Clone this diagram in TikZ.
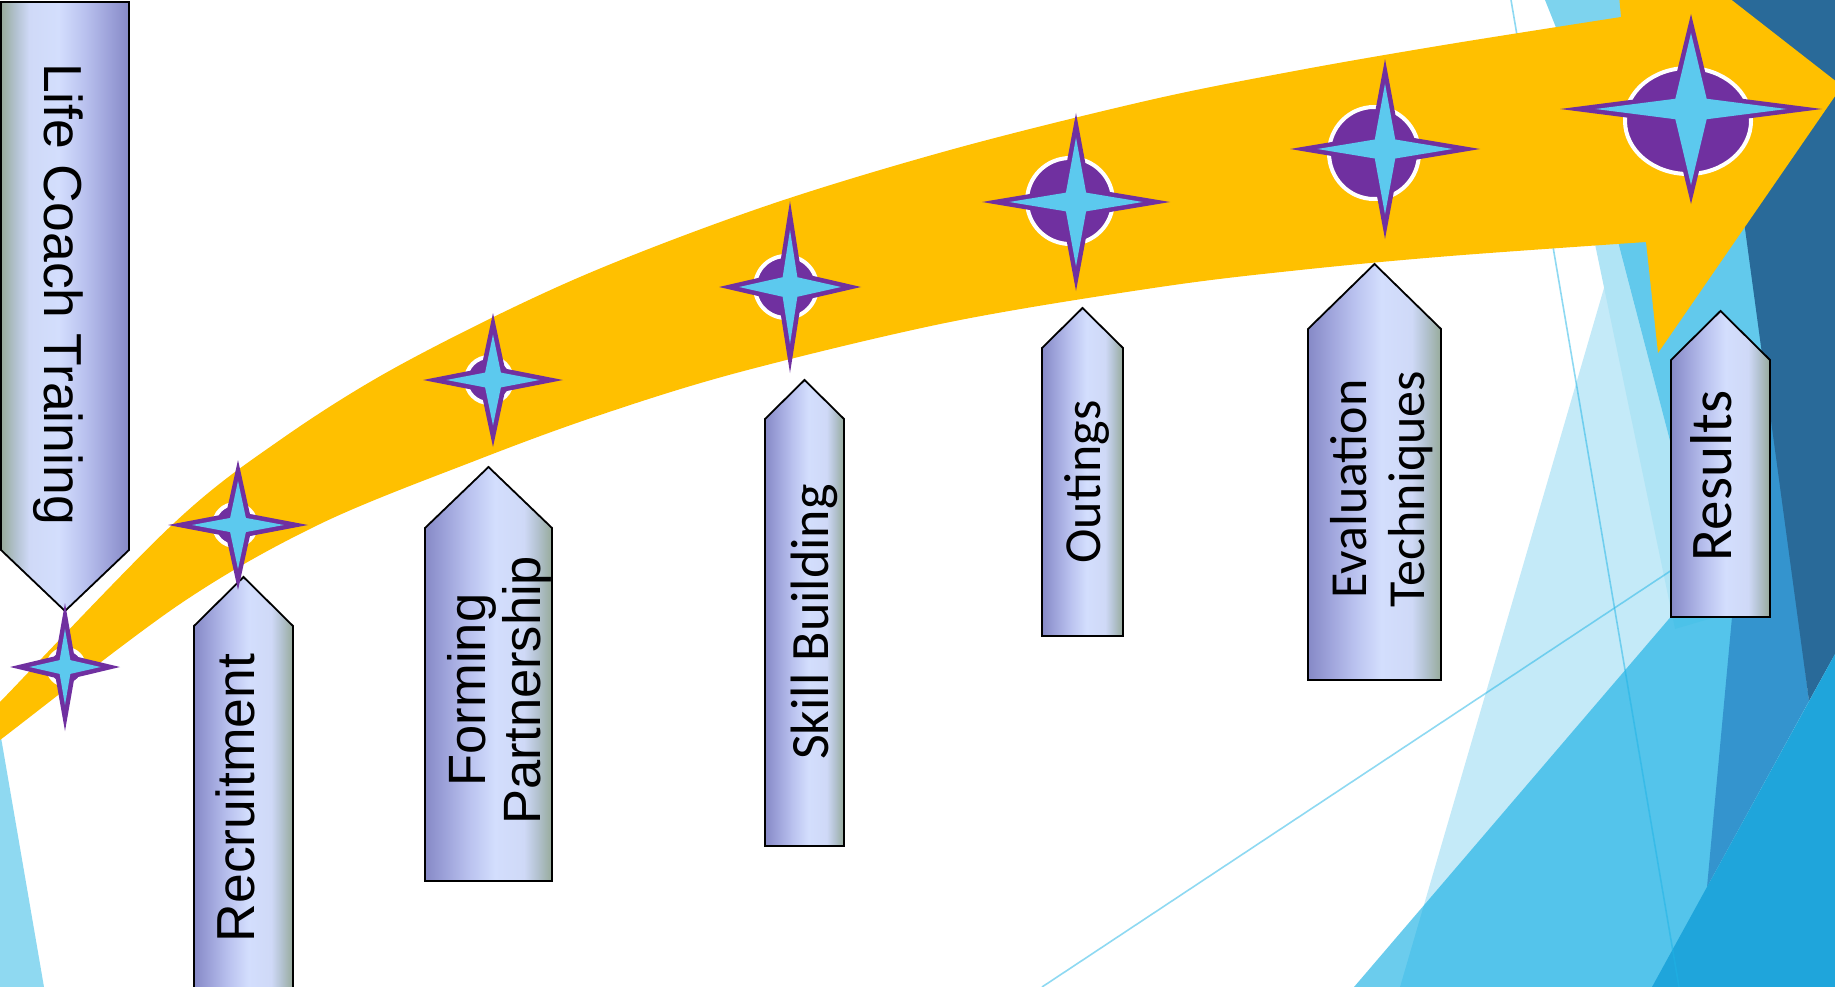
\documentclass[tikz,border=0pt]{standalone}
\usepackage{fontspec}
\setmainfont{Liberation Sans}
\newfontfamily\carl{Carlito}
\definecolor{ayellow}{HTML}{FFC000}
\definecolor{spurple}{HTML}{7030A0}
\definecolor{scyan}{HTML}{5CC9EE}
\definecolor{bx1}{HTML}{8689C6}
\definecolor{bx2}{HTML}{9CA1D9}
\definecolor{bx3}{HTML}{BAC2EF}
\definecolor{bx4}{HTML}{D3DEFD}
\definecolor{bx5}{HTML}{CFD9F7}
\definecolor{bx6}{HTML}{B4C3D2}
\definecolor{bx7}{HTML}{97AB9B}
\definecolor{fLeft}{HTML}{8FD9F1}
\definecolor{fTop}{HTML}{7DD3EE}
\definecolor{fLight}{HTML}{C4EAF8}
\definecolor{fBand}{HTML}{B0E4F5}
\definecolor{fCyanB}{HTML}{62C9EC}
\definecolor{fCyanT}{RGB}{14,173,227}
\definecolor{fMed}{HTML}{3494CE}
\definecolor{fNavy}{HTML}{296A99}
\definecolor{fDark}{HTML}{1FA5DB}
\definecolor{fLine}{RGB}{30,180,230}
\pgfdeclarehorizontalshading{boxshade}{100bp}{color(0bp)=(bx1); color(25bp)=(bx1); color(32.5bp)=(bx2); color(42.5bp)=(bx3); color(52.5bp)=(bx4); color(64bp)=(bx5); color(69bp)=(bx6); color(75bp)=(bx7); color(100bp)=(bx7)}
\pgfdeclarehorizontalshading{boxshadeR}{100bp}{color(0bp)=(bx7); color(25bp)=(bx7); color(31bp)=(bx6); color(36bp)=(bx5); color(47.5bp)=(bx4); color(57.5bp)=(bx3); color(67.5bp)=(bx2); color(75bp)=(bx1); color(100bp)=(bx1)}
\tikzset{
  boxsty/.style={shade, shading=boxshade, draw=black, line width=1.8pt, line join=miter},
  lbl/.style={inner sep=0pt, text=black, anchor=base},
  lsfont/.style={font={\fontsize{#1}{#1}\selectfont}},
  cafont/.style={font={\carl\fontsize{#1}{#1}\selectfont}},
  facetline/.style={draw=fLine, opacity=0.5, line width=1.6pt},
  gemdisc/.style={fill=spurple, draw=white, line width=4pt}
}
\newcommand{\upbox}[5]{%
  \pgfmathsetmacro{\bxm}{(#1+#2)/2}%
  \path[boxsty] (#1,#5) -- (#1,#4) -- (\bxm,#3) -- (#2,#4) -- (#2,#5) -- cycle;}
% centre x, centre y, half width, half height, waist ratio
\newcommand{\gemstar}[5]{%
  \pgfmathsetmacro{\ga}{#5*#3}%
  \pgfmathsetmacro{\gb}{#5*#4}%
  \pgfmathsetmacro{\gty}{#4-4.5*sqrt(\ga*\ga+(#4-\gb)*(#4-\gb))/\ga}%
  \pgfmathsetmacro{\gtx}{#3-4.5*sqrt(\gb*\gb+(#3-\ga)*(#3-\ga))/\gb}%
  \pgfmathsetmacro{\gai}{\ga-4}%
  \pgfmathsetmacro{\gbi}{\gb-4}%
  \begin{scope}[shift={(#1,#2)}]
    \fill[spurple] (0,#4) -- (\ga,\gb) -- (#3,0) -- (\ga,-\gb) -- (0,-#4) -- (-\ga,-\gb) -- (-#3,0) -- (-\ga,\gb) -- cycle;
    \fill[scyan] (0,\gty) -- (\gai,\gbi) -- (\gtx,0) -- (\gai,-\gbi) -- (0,-\gty) -- (-\gai,-\gbi) -- (-\gtx,0) -- (-\gai,\gbi) -- cycle;
  \end{scope}}
\begin{document}
\begin{tikzpicture}[x=1pt,y=-1pt]
\useasboundingbox (0,0) rectangle (1835,987);
\begin{scope}
\clip (0,0) rectangle (1835,987);
\fill[white] (0,0) rectangle (1835,987);
% background facets
\fill[fLeft] (-2,720) -- (44,987) -- (-2,987) -- cycle;
\fill[fTop] (1545,0) -- (1623,0) -- (1623,60) -- (1569,60) -- cycle;
\fill[fLight] (1618,240) -- (1400,987) -- (1835,987) -- (1835,240) -- cycle;
\fill[fBand] (1590,220) -- (1612,220) -- (1716,617) -- (1675,629) -- cycle;
\fill[fCyanB] (1581,100) -- (1835,100) -- (1835,600) -- (1716,617) -- cycle;
\fill[fCyanT, opacity=0.61] (1354,987) -- (1745,530) -- (1745,560) -- (1698,987) -- cycle;
\fill[fMed] (1735,400) -- (1772,400) -- (1809,701) -- (1707,887) -- (1732,617) -- cycle;
\fill[fNavy] (1714,0) -- (1835,0) -- (1835,654) -- (1809,701) -- cycle;
\fill[fDark] (1652,987) -- (1835,654) -- (1835,987) -- cycle;
\coordinate (l1a) at (1511,0); \coordinate (l1b) at (1679,987);
\coordinate (l2a) at (1042,987); \coordinate (l2b) at (1690,558);
\draw[facetline] (l1a) -- (l1b);
\draw[facetline] (l2a) -- (l2b);
% big arrow
\fill[ayellow] plot[smooth,tension=0.55] coordinates {(-30,733) (0,702) (173,524) (280,440) (400,365) (573,280) (760,208) (950,150) (1150,100) (1300,70) (1450,44) (1621,17)}
  -- (1611,-94) -- (1842,86) -- (1658,353) -- (1646,242)
  -- plot[smooth,tension=0.55] coordinates {(1646,242) (1450,256) (1300,270) (1160,287) (950,322) (740,372) (600,415) (477,460) (320,524) (180,604) (0,740) (-30,763)} -- cycle;
% boxes
\path[boxsty, shading=boxshadeR] (1,2) -- (129,2) -- (129,550) -- (65,611) -- (1,550) -- cycle;
\upbox{194}{293}{577}{626}{1000}
\upbox{425}{552}{467}{528}{881}
\upbox{765}{844}{380}{419}{846}
\upbox{1042}{1123}{308}{348}{636}
\upbox{1308}{1441}{264}{329}{680}
\upbox{1671}{1770}{311}{360}{617}
% discs and stars
\path[gemdisc] (66,667) circle [radius=18];
\gemstar{65}{667}{55}{64}{0.17}
\path[gemdisc] (235,525) circle [radius=21];
\gemstar{238}{525}{70}{65}{0.17}
\path[gemdisc] (489,380) circle [radius=23];
\gemstar{493}{380}{70}{67}{0.17}
\path[gemdisc] (786,287) circle [radius=31];
\gemstar{790}{287}{71}{86}{0.16}
\path[gemdisc] (1070,201) circle [radius=43];
\gemstar{1076}{202}{94}{89}{0.15}
\path[gemdisc] (1374,153) ellipse [x radius=45, y radius=46];
\gemstar{1385}{149}{95}{90}{0.15}
\path[gemdisc] (1688,121) ellipse [x radius=63, y radius=53];
\gemstar{1691}{109}{131}{95}{0.15}
% labels
\node[lbl, lsfont=53.5, rotate=-90] (lct) at (44,294) {Life Coach Training};
\node[lbl, lsfont=53.5, rotate=90] (rec) at (254,798) {Recruitment};
\node[lbl, lsfont=52.5, rotate=90] (form) at (485,690) {Forming};
\node[lbl, lsfont=52.5, rotate=90] (part) at (540,690) {Partnership};
\node[lbl, cafont=54, rotate=90] (skill) at (828,622) {Skill Building};
\node[lbl, cafont=52, rotate=90] (out) at (1100,482) {Outings};
\node[lbl, cafont=52, rotate=90] (eval) at (1366,489) {Evaluation};
\node[lbl, cafont=52, rotate=90] (tech) at (1424,489) {Techniques};
\node[lbl, cafont=59, rotate=90] (res) at (1731,476) {Results};
\end{scope}
\end{tikzpicture}
\end{document}
